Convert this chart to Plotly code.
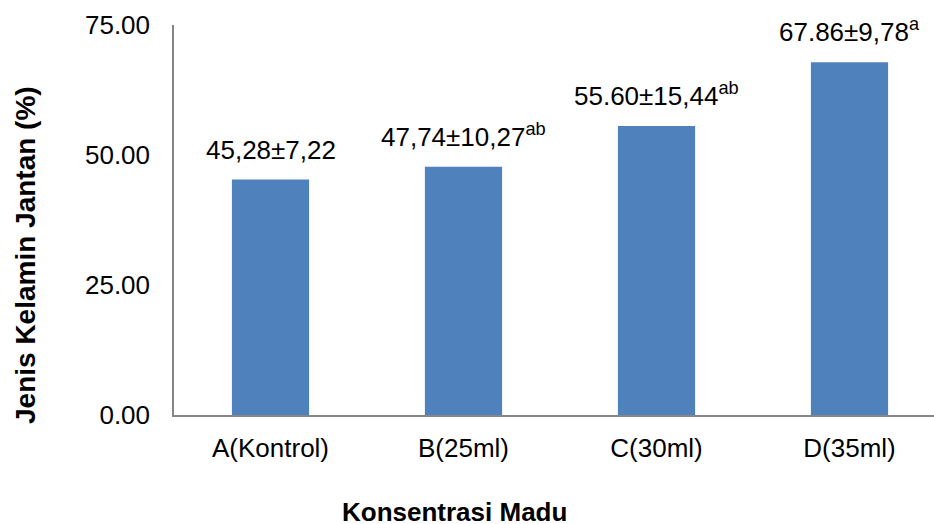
import plotly.graph_objects as go

categories = ["A(Kontrol)", "B(25ml)", "C(30ml)", "D(35ml)"]
values = [45.28, 47.74, 55.60, 67.86]
labels = ["45,28±7,22", "47,74±10,27", "55.60±15,44", "67.86±9,78"]
superscripts = ["", "ab", "ab", "a"]
y_ticks = [0, 25, 50, 75]
y_tick_text = ["0.00", "25.00", "50.00", "75.00"]

FONT = "Liberation Sans, Arial, sans-serif"
BAR = "#4F81BD"
AXIS = "#868686"

fig = go.Figure()
fig.add_trace(go.Bar(
    x=categories, y=values, width=0.4,
    marker=dict(color=BAR, line=dict(width=0)),
    hoverinfo="x+y",
))

for c, v, t, s in zip(categories, values, labels, superscripts):
    txt = t + (f"<sup>{s}</sup>" if s else "")
    fig.add_annotation(x=c, y=v, text=txt, showarrow=False,
                       xanchor="center", yanchor="bottom", yshift=13,
                       font=dict(family=FONT, size=26, color="#000000"))

# x axis title
fig.add_annotation(
    xref="paper", yref="paper", x=(454 - 174) / 760, y=-(512 - 415) / 390,
    text="<b>Konsentrasi Madu</b>", showarrow=False,
    xanchor="center", yanchor="middle",
    font=dict(family=FONT, size=26, color="#000000"))

# y axis title
fig.add_annotation(
    xref="paper", yref="paper", x=-(174 - 25) / 760, y=(415 - 255) / 390,
    text="<b>Jenis Kelamin Jantan (%)</b>", showarrow=False, textangle=-90,
    xanchor="center", yanchor="middle",
    font=dict(family=FONT, size=28, color="#000000"))

fig.update_layout(
    width=934, height=524,
    margin=dict(l=174, r=0, t=25, b=109, pad=0),
    paper_bgcolor="white", plot_bgcolor="white",
    showlegend=False,
    font=dict(family=FONT, size=25, color="#000000"),
    xaxis=dict(
        type="category", range=[-0.5, -0.5 + 760 / 193],
        showline=True, linecolor=AXIS, linewidth=1.5,
        showgrid=False, zeroline=False, ticks="",
        ticklabelstandoff=9,
        tickfont=dict(family=FONT, size=26, color="#000000"),
    ),
    yaxis=dict(
        range=[0, 75], tickvals=y_ticks, ticktext=y_tick_text,
        showline=True, linecolor=AXIS, linewidth=1.5,
        showgrid=False, zeroline=False, ticks="",
        ticklabelstandoff=17,
        tickfont=dict(family=FONT, size=26, color="#000000"),
    ),
)

fig.write_html("out.html", config={"displayModeBar": False},
               post_script="document.body.style.margin='0';")
